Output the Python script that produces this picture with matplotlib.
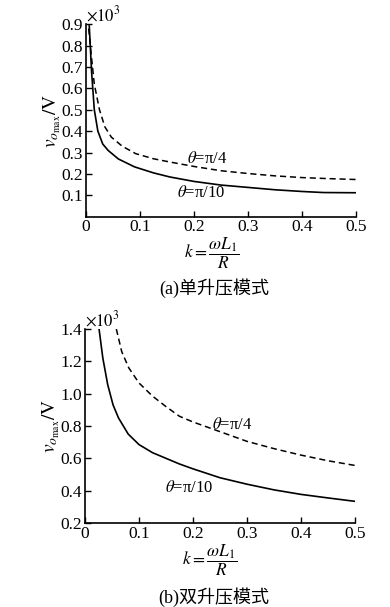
import numpy as np
import matplotlib
matplotlib.use("Agg")
import matplotlib.pyplot as plt

plt.rcParams['font.family'] = ['Liberation Serif', 'Noto Sans CJK SC']
plt.rcParams['mathtext.fontset'] = 'stix'

# (a) single boost mode, values in units of 10^3 V
k_a_pi10 = [0.006, 0.0103, 0.0154, 0.022, 0.031, 0.041, 0.06, 0.09, 0.125,
            0.155, 0.2, 0.25, 0.3, 0.35, 0.4, 0.44, 0.5]
v_a_pi10 = [0.895, 0.68, 0.50, 0.40, 0.34, 0.31, 0.27, 0.233, 0.205,
            0.186, 0.165, 0.148, 0.137, 0.126, 0.118, 0.113, 0.112]
k_a_pi4 = [0.005, 0.01, 0.0154, 0.025, 0.035, 0.047, 0.067, 0.092, 0.125,
           0.155, 0.2, 0.25, 0.3, 0.35, 0.4, 0.45, 0.5]
v_a_pi4 = [0.88, 0.75, 0.62, 0.50, 0.42, 0.372, 0.33, 0.295, 0.271,
           0.256, 0.235, 0.215, 0.202, 0.191, 0.183, 0.178, 0.174]

# (b) double boost mode
k_b_pi10 = [0.026, 0.033, 0.042, 0.052, 0.062, 0.08, 0.1, 0.125, 0.15,
            0.175, 0.2, 0.25, 0.3, 0.35, 0.4, 0.45, 0.5]
v_b_pi10 = [1.40, 1.22, 1.056, 0.93, 0.85, 0.75, 0.685, 0.635, 0.60,
            0.565, 0.535, 0.48, 0.44, 0.405, 0.377, 0.355, 0.334]
k_b_pi4 = [0.058, 0.068, 0.081, 0.1, 0.125, 0.15, 0.175, 0.2, 0.25, 0.3,
           0.35, 0.4, 0.45, 0.5]
v_b_pi4 = [1.40, 1.26, 1.16, 1.066, 0.985, 0.92, 0.86, 0.825, 0.765, 0.705,
           0.66, 0.62, 0.585, 0.556]

x_ticks = [0, 0.1, 0.2, 0.3, 0.4, 0.5]
y_ticks_a = [0.1, 0.2, 0.3, 0.4, 0.5, 0.6, 0.7, 0.8, 0.9]
y_ticks_b = [0.2, 0.4, 0.6, 0.8, 1.0, 1.2, 1.4]

fig = plt.figure(figsize=(3.9, 6.07), dpi=100)
ax_a = fig.add_axes([0.2205, 0.643, 0.692, 0.317])
ax_b = fig.add_axes([0.218, 0.1384, 0.692, 0.3196])


def style_axes(ax, yticks, ylim, xlab_pos):
    ax.set_xlim(0, 0.5)
    ax.set_ylim(*ylim)
    ax.set_xticks(x_ticks)
    ax.set_xticklabels(['0' if t == 0 else '%.1f' % t for t in x_ticks])
    ax.set_yticks(yticks)
    ax.set_yticklabels(['%.1f' % t for t in yticks])
    ax.spines['top'].set_visible(False)
    ax.spines['right'].set_visible(False)
    for s in ('left', 'bottom'):
        ax.spines[s].set_linewidth(1.2)
    ax.tick_params(direction='in', length=4, width=1, labelsize=12.5, pad=2)
    ax.text(0.0, 0.995, r'$\times 10^3$', transform=ax.transAxes,
            ha='left', va='bottom', fontsize=12)
    ax.text(-0.125, 0.5, r'$v_{o_{\mathrm{max}}}/\mathrm{V}$', transform=ax.transAxes,
            rotation=90, ha='center', va='center', fontsize=14)
    ax.text(xlab_pos[0], xlab_pos[1], r'$k=\dfrac{\omega L_1}{R}$', transform=ax.transAxes,
            ha='center', va='top', fontsize=12.5)


# panel (a)
ax_a.plot(k_a_pi10, v_a_pi10, color='black', lw=1.2)
ax_a.plot(k_a_pi4, v_a_pi4, color='black', lw=1.1, dashes=(4, 2.5))
style_axes(ax_a, y_ticks_a, (0, 0.9), (0.467, -0.095))
ax_a.text(0.188, 0.268, r'$\theta$=π/4', ha='left', va='center', fontsize=12)
ax_a.text(0.168, 0.112, r'$\theta$=π/10', ha='left', va='center', fontsize=12)
fig.text(214 / 390, 1 - 288 / 607, '(a)单升压模式', ha='center', va='center', fontsize=13)

# panel (b)
ax_b.plot(k_b_pi10, v_b_pi10, color='black', lw=1.2)
ax_b.plot(k_b_pi4, v_b_pi4, color='black', lw=1.1, dashes=(4, 2.5))
style_axes(ax_b, y_ticks_b, (0.2, 1.4), (0.463, -0.1))
ax_b.text(0.235, 0.808, r'$\theta$=π/4', ha='left', va='center', fontsize=12)
ax_b.text(0.148, 0.416, r'$\theta$=π/10', ha='left', va='center', fontsize=12)
fig.text(214 / 390, 1 - 597 / 607, '(b)双升压模式', ha='center', va='center', fontsize=13)

fig.savefig('out.png', dpi=100)
